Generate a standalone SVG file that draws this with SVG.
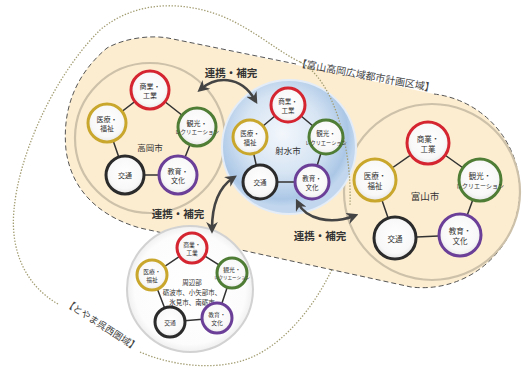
<svg xmlns="http://www.w3.org/2000/svg" width="528" height="376" viewBox="0 0 528 376">
<style>
.t{font-family:"Noto Sans CJK JP","Noto Sans",sans-serif;fill:#333;text-anchor:middle;dominant-baseline:central}
.lbl{font-family:"Noto Sans CJK JP","Noto Sans",sans-serif;fill:#333;text-anchor:middle;font-weight:bold;font-size:10.5px}
.area{font-family:"Noto Sans CJK JP","Noto Sans",sans-serif;fill:#444;text-anchor:middle}
.nd{fill:url(#ng);stroke-width:3}
.red{stroke:#d42531}.grn{stroke:#4f7d35}.pur{stroke:#6b3f98}.blk{stroke:#2b2b2b}.yel{stroke:#c9a62c}
.edge{stroke:#333;stroke-width:1.5;fill:none}
.arr{stroke:#444;stroke-width:2.6;fill:none;marker-start:url(#ah);marker-end:url(#ah)}
.ring{fill:none;stroke:#cdc1aa;stroke-width:2.2}
.dot{fill:none;stroke:#a39d72;stroke-width:1.3;stroke-dasharray:1.4 1.6}
.dash{fill:none;stroke:#555;stroke-width:1;stroke-dasharray:5 3}
</style>
<defs>
<radialGradient id="ng" cx="50%" cy="45%" r="55%"><stop offset="0" stop-color="#fff"/><stop offset=".75" stop-color="#f8f8f8"/><stop offset="1" stop-color="#e6e6e6"/></radialGradient>
<radialGradient id="bg" cx="45%" cy="40%" r="55%"><stop offset="0" stop-color="#f3f7fc"/><stop offset=".55" stop-color="#d6e4f3"/><stop offset=".9" stop-color="#abc7e6"/><stop offset="1" stop-color="#c2d7ee"/></radialGradient>
<radialGradient id="sg" cx="50%" cy="50%" r="50%"><stop offset="0" stop-color="#fff"/><stop offset=".88" stop-color="#fcfcfc"/><stop offset="1" stop-color="#f0f0f0"/></radialGradient>
<marker id="ah" viewBox="0 0 10 10" refX="6" refY="5" markerWidth="4.5" markerHeight="4.5" orient="auto-start-reverse" markerUnits="strokeWidth"><path d="M0,0 L10,5 L0,10 L3,5 Z" fill="#444"/></marker>
</defs>
<rect width="528" height="376" fill="#fff"/>

<g id="area-gosei">
<path class="dot" d="M140,352 C170,365 215,372 250,358 C305,335 348,255 350,205 C352,150 335,80 300,62"/>
<path class="dot" d="M58,304 C25,285 10,250 14,210 C18,160 50,80 100,30 C130,5 170,0 210,12 C245,22 275,50 300,62"/>
<text class="area" font-size="9.5" transform="translate(100,328) rotate(33)">【とやま呉西圏域】</text>
</g>

<g id="area-toshikeikaku">
<path fill="#fcedd0" d="M168,38 L434,94 A97,97 0 0 1 411,287 L140,228 C105,218 72,195 66,150 C62,110 75,75 107,48 C125,38 150,35 168,38 Z"/>
<path class="dash" d="M434,94 A97,97 0 0 1 411,287 L140,228 C105,218 72,195 66,150 C62,110 75,75 107,48 C125,38 150,35 168,38 L296,64"/>
<text class="area" font-size="10" transform="translate(365,79) rotate(10.5)">【富山高岡広域都市計画区域】</text>
</g>

<g id="ring-takaoka"><circle class="ring" cx="150" cy="138" r="75"/></g>
<g id="ring-toyama"><circle class="ring" cx="432" cy="192" r="88"/></g>
<g id="ring-imizu"><circle cx="289" cy="147" r="68" fill="#e4edf7"/><circle cx="289" cy="147" r="66" fill="url(#bg)"/></g>
<g id="ring-shuhen"><circle cx="190" cy="289" r="63" fill="url(#sg)" stroke="#d2d2d2" stroke-width="2"/></g>

<path class="dot" d="M300,62 C335,80 352,150 350,205"/>

<g id="connectors">
<path class="edge" d="M150,90 L197,127 L178,175 L125,175 L107,123 Z"/>
<path class="edge" d="M288,105 L326,137 L312,182 L260,182 L250,137 Z"/>
<path class="edge" d="M428,143 L480,180 L460,235 L395,238 L375,180 Z"/>
<path class="edge" d="M192,248 L232,273 L217,318 L170,322 L152,275 Z"/>
<path class="arr" d="M201,89 C215,77 240,74 255,100"/>
<path class="arr" d="M233,178 C218,188 212,205 212,229"/>
<path class="arr" d="M298,203 C306,219 330,225 354,216"/>
</g>

<g id="takaoka-label"><text class="t" x="150" y="147" font-size="8.5">高岡市</text></g>
<g id="takaoka-shogyo"><circle class="nd red" cx="150" cy="90" r="19"/><text class="t" x="150" y="86" font-size="7">商業・</text><text class="t" x="150" y="95" font-size="7">工業</text></g>
<g id="takaoka-kanko"><circle class="nd grn" cx="197" cy="127" r="19"/><text class="t" x="197" y="123" font-size="7">観光・</text><text class="t" x="197" y="132" font-size="5.5">レクリエーション</text></g>
<g id="takaoka-kyoiku"><circle class="nd pur" cx="178" cy="175" r="19"/><text class="t" x="178" y="171" font-size="7">教育・</text><text class="t" x="178" y="180" font-size="7">文化</text></g>
<g id="takaoka-kotsu"><circle class="nd blk" cx="125" cy="175" r="19"/><text class="t" x="125" y="175" font-size="7">交通</text></g>
<g id="takaoka-iryo"><circle class="nd yel" cx="107" cy="123" r="19"/><text class="t" x="107" y="119" font-size="7">医療・</text><text class="t" x="107" y="128" font-size="7">福祉</text></g>

<g id="imizu-label"><text class="t" x="288" y="150" font-size="8.5">射水市</text></g>
<g id="imizu-shogyo"><circle class="nd red" cx="288" cy="105" r="17"/><text class="t" x="288" y="101" font-size="6.5">商業・</text><text class="t" x="288" y="110" font-size="6.5">工業</text></g>
<g id="imizu-kanko"><circle class="nd grn" cx="326" cy="137" r="17"/><text class="t" x="326" y="133" font-size="6.5">観光・</text><text class="t" x="326" y="142" font-size="5.2">レクリエーション</text></g>
<g id="imizu-kyoiku"><circle class="nd pur" cx="312" cy="182" r="17"/><text class="t" x="312" y="178" font-size="6.5">教育・</text><text class="t" x="312" y="187" font-size="6.5">文化</text></g>
<g id="imizu-kotsu"><circle class="nd blk" cx="260" cy="182" r="17"/><text class="t" x="260" y="182" font-size="6.5">交通</text></g>
<g id="imizu-iryo"><circle class="nd yel" cx="250" cy="137" r="17"/><text class="t" x="250" y="133" font-size="6.5">医療・</text><text class="t" x="250" y="142" font-size="6.5">福祉</text></g>

<g id="toyama-label"><text class="t" x="425" y="196" font-size="9.5">富山市</text></g>
<g id="toyama-shogyo"><circle class="nd red" cx="428" cy="143" r="21"/><text class="t" x="428" y="138.5" font-size="7.5">商業・</text><text class="t" x="428" y="148.5" font-size="7.5">工業</text></g>
<g id="toyama-kanko"><circle class="nd grn" cx="480" cy="180" r="21"/><text class="t" x="480" y="175.5" font-size="7.5">観光・</text><text class="t" x="480" y="185.5" font-size="6">レクリエーション</text></g>
<g id="toyama-kyoiku"><circle class="nd pur" cx="460" cy="235" r="21"/><text class="t" x="460" y="230.5" font-size="7.5">教育・</text><text class="t" x="460" y="240.5" font-size="7.5">文化</text></g>
<g id="toyama-kotsu"><circle class="nd blk" cx="395" cy="238" r="21"/><text class="t" x="395" y="238" font-size="7.5">交通</text></g>
<g id="toyama-iryo"><circle class="nd yel" cx="375" cy="180" r="21"/><text class="t" x="375" y="175.5" font-size="7.5">医療・</text><text class="t" x="375" y="185.5" font-size="7.5">福祉</text></g>

<g id="shuhen-label"><text class="t" x="192" y="282" font-size="6.5" stroke="#fff" stroke-width="2.5" paint-order="stroke">周辺部</text><text class="t" x="192" y="292" font-size="6.5" stroke="#fff" stroke-width="2.5" paint-order="stroke">砺波市、小矢部市、</text><text class="t" x="192" y="302" font-size="6.5" stroke="#fff" stroke-width="2.5" paint-order="stroke">氷見市、南砺市</text></g>
<g id="shuhen-shogyo"><circle class="nd red" cx="192" cy="248" r="15"/><text class="t" x="192" y="244.5" font-size="5.8">商業・</text><text class="t" x="192" y="252" font-size="5.8">工業</text></g>
<g id="shuhen-kanko"><circle class="nd grn" cx="232" cy="273" r="15"/><text class="t" x="232" y="269.5" font-size="5.8">観光・</text><text class="t" x="232" y="277" font-size="4.5">レクリエーション</text></g>
<g id="shuhen-kyoiku"><circle class="nd pur" cx="217" cy="318" r="15"/><text class="t" x="217" y="314.5" font-size="5.8">教育・</text><text class="t" x="217" y="322" font-size="5.8">文化</text></g>
<g id="shuhen-kotsu"><circle class="nd blk" cx="170" cy="322" r="15"/><text class="t" x="170" y="322" font-size="5.8">交通</text></g>
<g id="shuhen-iryo"><circle class="nd yel" cx="152" cy="275" r="15"/><text class="t" x="152" y="271.5" font-size="5.8">医療・</text><text class="t" x="152" y="279" font-size="5.8">福祉</text></g>

<g id="labels">
<text class="lbl" x="231" y="72" dominant-baseline="central">連携・補完</text>
<text class="lbl" x="178" y="213" dominant-baseline="central">連携・補完</text>
<text class="lbl" x="320" y="235" dominant-baseline="central">連携・補完</text>
</g>
</svg>
